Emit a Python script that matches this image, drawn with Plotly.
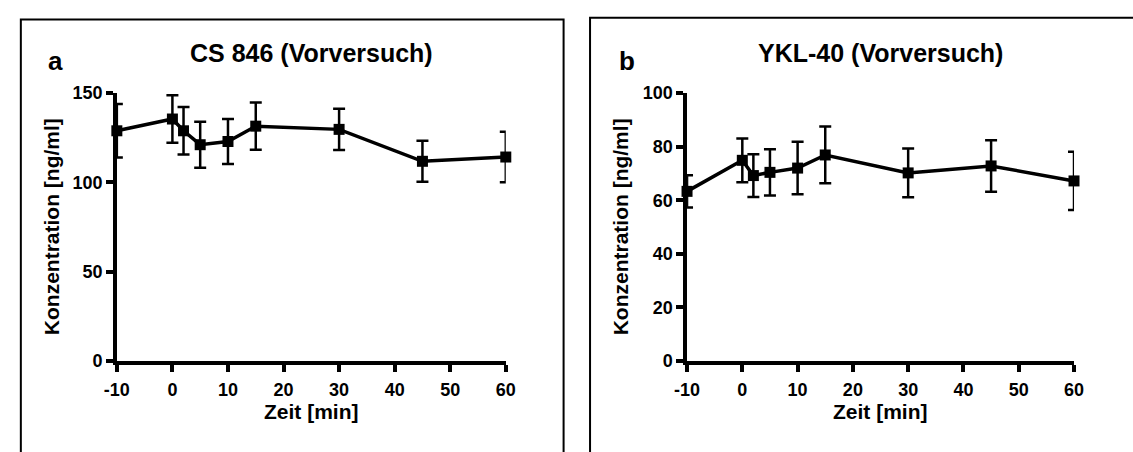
import plotly.graph_objects as go

# ---- data ----
time_min = [-10, 0, 2, 5, 10, 15, 30, 45, 60]

cs846_mean = [128.9, 135.5, 128.9, 121.1, 122.9, 131.5, 129.7, 111.8, 114.2]
cs846_err = [15.0, 13.3, 13.3, 12.9, 12.6, 13.2, 11.6, 11.5, 14.1]

ykl40_mean = [63.3, 74.9, 69.2, 70.4, 72.0, 76.9, 70.2, 72.8, 67.2]
ykl40_err = [6.0, 8.2, 8.0, 8.6, 9.8, 10.6, 9.1, 9.6, 10.9]

x_ticks = [-10, 0, 10, 20, 30, 40, 50, 60]
x_ticklabels = ["-10", "0", "10", "20", "30", "40", "50", "60"]
y_ticks_a = [0, 50, 100, 150]
y_ticks_b = [0, 20, 40, 60, 80, 100]

titles = ["CS 846 (Vorversuch)", "YKL-40 (Vorversuch)"]
letters = ["a", "b"]
x_title = "Zeit [min]"
y_title = "Konzentration [ng/ml]"

W, H = 1133, 452
FONT = "Liberation Sans, Arial, sans-serif"

fig = go.Figure()

def add_series(x, y, e, xa, ya):
    fig.add_trace(go.Scatter(
        x=x, y=y, xaxis=xa, yaxis=ya, mode="lines+markers",
        line=dict(color="black", width=3.5),
        marker=dict(symbol="square", size=11, color="black"),
        error_y=dict(type="data", array=e, visible=True, color="black",
                     thickness=2.5, width=6),
        cliponaxis=False, showlegend=False,
    ))

add_series(time_min, cs846_mean, cs846_err, "x", "y")
add_series(time_min, ykl40_mean, ykl40_err, "x2", "y2")

ydom = [1 - 367 / H, 1 - 87 / H]
xdom_a = [106 / W, 503 / W]
xdom_b = [688 / W, 1083 / W]

tickfont = dict(family=FONT, size=18, color="black", weight="bold")
common_x = dict(range=[-10, 60], tickvals=x_ticks, ticktext=x_ticklabels,
                showgrid=False, zeroline=False,
                showline=True, linewidth=3.5, linecolor="black", ticks="outside",
                ticklen=7, tickwidth=3.5, tickcolor="black", tickfont=tickfont,
                ticklabelstandoff=3)
common_y = dict(showgrid=False, zeroline=False, showline=True, linewidth=3.5,
                linecolor="black", ticks="outside", ticklen=7, tickwidth=3.5,
                tickcolor="black", tickfont=tickfont, ticklabelstandoff=0)

fig.update_layout(
    width=W, height=H, margin=dict(l=0, r=0, t=0, b=0),
    paper_bgcolor="white", plot_bgcolor="white",
    font=dict(family=FONT, color="black"),
    xaxis=dict(domain=xdom_a, anchor="y", **common_x),
    yaxis=dict(domain=ydom, anchor="x", range=[0, 150], tickvals=y_ticks_a, **common_y),
    xaxis2=dict(domain=xdom_b, anchor="y2", **common_x),
    yaxis2=dict(domain=ydom, anchor="x2", range=[0, 100], tickvals=y_ticks_b, **common_y),
)

# panel frames
fig.add_shape(type="rect", xref="paper", yref="paper",
              x0=8 / W, x1=562 / W, y0=-0.2, y1=1 - 10 / H,
              line=dict(color="black", width=2), layer="below")
fig.add_shape(type="rect", xref="paper", yref="paper",
              x0=589 / W, x1=1.2, y0=-0.2, y1=1 - 8 / H,
              line=dict(color="black", width=2), layer="below")

ann = []
for title, letter, xd, lx, ytx in zip(titles, letters, [xdom_a, xdom_b],
                                      [43, 627], [40, 621]):
    cx = (xd[0] + xd[1]) / 2
    ann.append(dict(text=title, x=cx, y=1 - 45 / H, xref="paper", yref="paper",
                    showarrow=False, xanchor="center", yanchor="middle",
                    font=dict(family=FONT, size=25, weight="bold", color="black")))
    ann.append(dict(text=letter, x=lx / W, y=1 - 53 / H, xref="paper", yref="paper",
                    showarrow=False, xanchor="center", yanchor="middle",
                    font=dict(family=FONT, size=26, weight="bold", color="black")))
    ann.append(dict(text=x_title, x=cx, y=1 - 406 / H, xref="paper", yref="paper",
                    showarrow=False, xanchor="center", yanchor="top",
                    font=dict(family=FONT, size=21, weight="bold", color="black")))
    ann.append(dict(text=y_title, x=ytx / W, y=(ydom[0] + ydom[1]) / 2, xref="paper",
                    yref="paper", showarrow=False, textangle=-90,
                    xanchor="center", yanchor="middle",
                    font=dict(family=FONT, size=21, weight="bold", color="black")))
fig.update_layout(annotations=ann)

fig.write_html("out.html")
